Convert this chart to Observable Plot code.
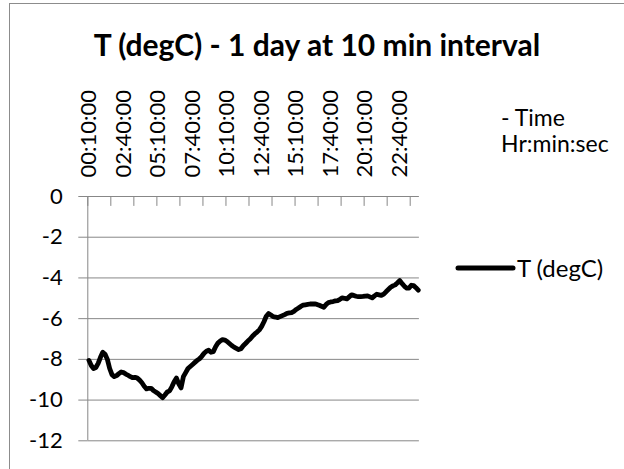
<!DOCTYPE html>
<html>
<head>
<meta charset="utf-8">
<script src="https://cdn.jsdelivr.net/npm/d3@7"></script>
<script src="https://cdn.jsdelivr.net/npm/@observablehq/plot@0.6"></script>
<style>
  html, body { margin: 0; padding: 0; background: #fff; }
  #wrap { position: relative; width: 624px; height: 469px; overflow: hidden; background: #fff; font-family: Lato, "Open Sans", sans-serif; }
  #border { position: absolute; left: 9px; top: 3px; width: 800px; height: 700px; border: 1px solid #8c8c8c; box-sizing: border-box; }
  #chart { position: absolute; left: 0; top: 0; }
  #overlay { position: absolute; left: 0; top: 0; }
</style>
</head>
<body>
<div id="wrap">
  <div id="border"></div>
  <div id="chart"></div>
  <svg id="overlay" width="624" height="469">
    <text x="317" y="56" text-anchor="middle" font-family="Lato" font-weight="bold" font-size="30" fill="#000">T (degC) - 1 day at 10 min interval</text>
    <text x="501" y="126" font-family="Lato" font-size="23" fill="#000">- Time</text>
    <text x="501" y="152" font-family="Lato" font-size="23" fill="#000">Hr:min:sec</text>
    <line x1="458" x2="513" y1="268" y2="268" stroke="#000" stroke-width="5" stroke-linecap="round"></line>
    <text x="517" y="277" font-family="Lato" font-size="24" fill="#000">T (degC)</text>
  </svg>
</div>
<script>
// Temperature (degC) every 10 minutes, 00:10:00 through 24:00:00 (144 readings)
const temps = [
  -8.05, -8.30, -8.45, -8.40, -8.20, -7.90, -7.65, -7.75, -8.00, -8.45,
  -8.75, -8.85, -8.80, -8.70, -8.62, -8.65, -8.72, -8.78, -8.85, -8.90,
  -8.88, -8.92, -9.02, -9.15, -9.32, -9.45, -9.42, -9.42, -9.53, -9.60,
  -9.68, -9.78, -9.88, -9.75, -9.60, -9.55, -9.35, -9.10, -8.92, -9.20,
  -9.40, -8.85, -8.65, -8.45, -8.35, -8.25, -8.15, -8.05, -7.97, -7.85,
  -7.70, -7.60, -7.55, -7.65, -7.62, -7.38, -7.20, -7.10, -7.03, -7.05,
  -7.12, -7.22, -7.32, -7.40, -7.46, -7.52, -7.48, -7.33, -7.22, -7.10,
  -7.00, -6.86, -6.75, -6.66, -6.55, -6.38, -6.15, -5.88, -5.75, -5.82,
  -5.90, -5.92, -5.95, -5.90, -5.85, -5.80, -5.74, -5.72, -5.70, -5.64,
  -5.55, -5.48, -5.40, -5.34, -5.32, -5.30, -5.28, -5.28, -5.27, -5.30,
  -5.34, -5.39, -5.44, -5.30, -5.21, -5.18, -5.16, -5.13, -5.11, -5.05,
  -4.98, -5.00, -5.03, -4.93, -4.83, -4.86, -4.90, -4.92, -4.92, -4.91,
  -4.89, -4.88, -4.93, -4.98, -4.88, -4.80, -4.83, -4.86, -4.80, -4.68,
  -4.57, -4.46, -4.39, -4.34, -4.24, -4.13, -4.28, -4.41, -4.50, -4.50,
  -4.36, -4.38, -4.48, -4.60
];
const tickLabels = ["00:10:00", "02:40:00", "05:10:00", "07:40:00", "10:10:00",
                    "12:40:00", "15:10:00", "17:40:00", "20:10:00", "22:40:00"];
const tickMarks = [0, 10, 20, 30, 40, 50, 60, 70, 80, 90, 100, 110, 120, 130, 140];
const yTicks = [0, -2, -4, -6, -8, -10, -12];

// category index of each labelled time (first reading is 00:10:00, step 10 min)
const labelIndex = tickLabels.map(t => {
  const [h, m] = t.split(":").map(Number);
  return (h * 60 + m - 10) / 10;
});

const gray = "#878787";
const tickShape = {
  draw(context, l) { context.moveTo(0, 0); context.lineTo(0, -l); }
};

const chart = Plot.plot({
  width: 624,
  height: 469,
  marginLeft: 87.3,
  marginRight: 205.1,
  marginTop: 196,
  marginBottom: 28.7,
  style: { fontFamily: "Lato", background: "transparent", color: "#000" },
  x: { domain: [0, 144], axis: null },
  y: { domain: [-12, 0], axis: null },
  marks: [
    Plot.ruleY(yTicks, { stroke: gray, strokeWidth: 1 }),
    Plot.axisY({ ticks: yTicks, tickSize: 9, tickPadding: 16, stroke: gray, fontSize: 22, fill: "#000", tickFormat: d => d.toString() }),
    Plot.ruleX([0], { stroke: gray, strokeWidth: 1 }),
    Plot.vector(tickMarks, { x: d => d, y: 0, length: 9, rotate: 180, anchor: "start", shape: tickShape, stroke: gray, strokeWidth: 1 }),
    Plot.line(temps, { x: (d, i) => i + 0.5, y: d => d, stroke: "#000", strokeWidth: 4.8, strokeLinejoin: "round", strokeLinecap: "round" }),
    Plot.text(labelIndex, { x: d => d + 0.5, y: 0, text: (d, i) => tickLabels[i], rotate: -90, textAnchor: "start", dy: -19, fontSize: 22, fill: "#000" })
  ]
});
document.getElementById("chart").appendChild(chart);
</script>
</body>
</html>
